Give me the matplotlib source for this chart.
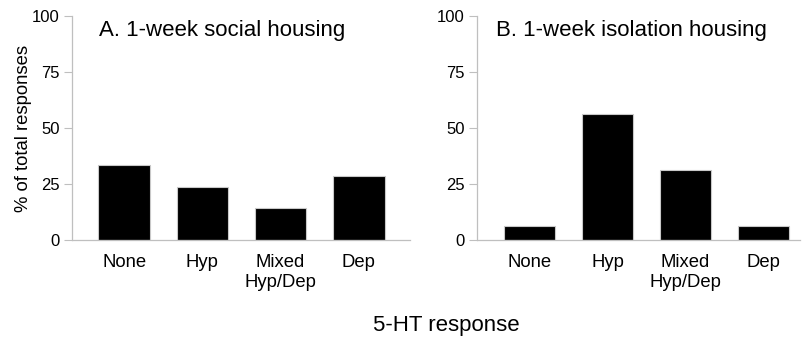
import matplotlib
matplotlib.use("Agg")
import matplotlib.pyplot as plt
import numpy as np

plt.rcParams['font.family'] = ['Liberation Sans', 'DejaVu Sans']

categories = ["None", "Hyp", "Mixed\nHyp/Dep", "Dep"]
social = [33.3, 23.8, 14.3, 28.6]       # 1-week social housing, % of responses
isolation = [6.25, 56.25, 31.25, 6.25]  # 1-week isolation housing, % of responses
yticks = [0, 25, 50, 75, 100]

AXIS_GREY = "#bfbfbf"

fig = plt.figure(figsize=(8.05, 3.41), dpi=100)
ax_a = fig.add_axes([0.0894, 0.296, 0.4199, 0.657])
ax_b = fig.add_axes([0.5925, 0.296, 0.4013, 0.657])

panels = [
    (ax_a, social, "A. 1-week social housing", (-0.667, 3.655)),
    (ax_b, isolation, "B. 1-week isolation housing", (-0.678, 3.47)),
]
x = np.arange(len(categories))
for ax, vals, title, xlim in panels:
    ax.bar(x, vals, width=0.66, color="black", edgecolor="#c8c8c8", linewidth=0.8)
    ax.set_xlim(*xlim)
    ax.set_ylim(0, 100)
    ax.set_yticks(yticks)
    ax.set_xticks(x)
    ax.set_xticklabels(categories, fontsize=13.3, linespacing=1.25)
    ax.tick_params(axis="x", length=0, pad=10)
    ax.tick_params(axis="y", length=6, width=0.8, color=AXIS_GREY, labelsize=12, pad=3)
    for side in ("top", "right"):
        ax.spines[side].set_visible(False)
    for side in ("left", "bottom"):
        ax.spines[side].set_color(AXIS_GREY)
        ax.spines[side].set_linewidth(0.9)
    ax.text(0.08 if ax is ax_a else 0.06, 0.935, title, transform=ax.transAxes,
            fontsize=16, va="center", ha="left")

ax_a.set_ylabel("% of total responses", fontsize=13.3, labelpad=0)
fig.text(0.555, 0.045, "5-HT response", fontsize=16, ha="center", va="center")

fig.savefig("out.png", dpi=100)
